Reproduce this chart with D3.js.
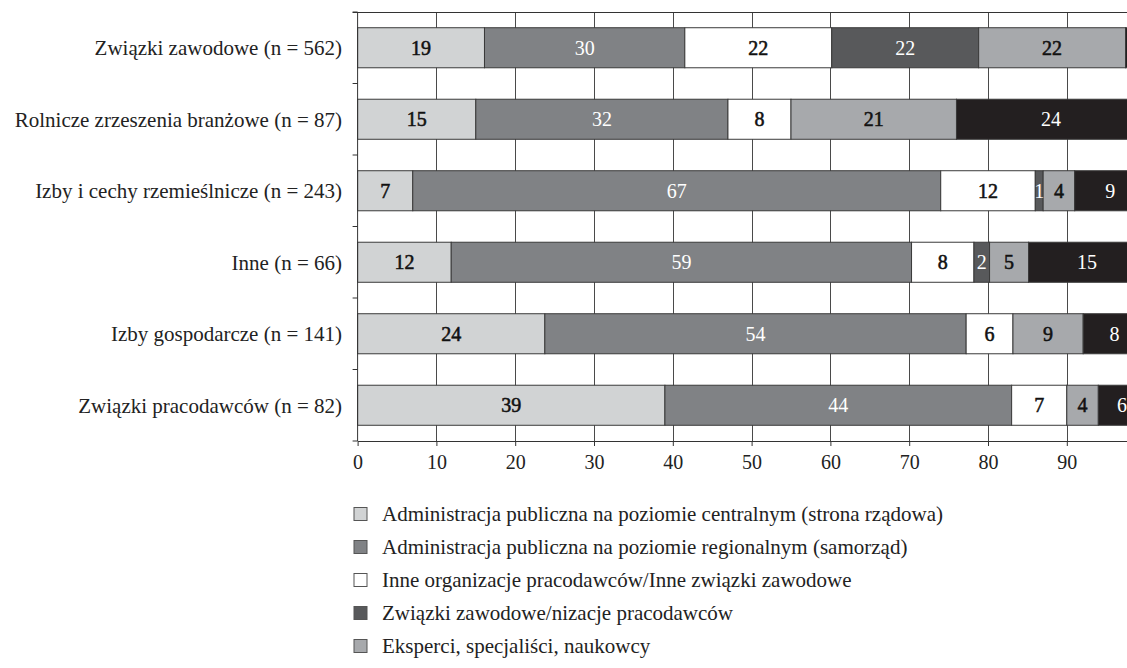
<!DOCTYPE html>
<html>
<head>
<meta charset="utf-8">
<script src="https://cdn.jsdelivr.net/npm/d3@7"></script>
<style>
  html, body { margin: 0; padding: 0; background: #fff; overflow: hidden; }
  svg { display: block; font-family: "Liberation Serif", "DejaVu Serif", serif; }
</style>
</head>
<body>
<svg id="chart" width="1127" height="668"></svg>
<script>
// ---- data (percent labels as printed; bars are normalised to 100% per row) ----
const categories = [
  "Związki zawodowe (n = 562)",
  "Rolnicze zrzeszenia branżowe (n = 87)",
  "Izby i cechy rzemieślnicze (n = 243)",
  "Inne (n = 66)",
  "Izby gospodarcze (n = 141)",
  "Związki pracodawców (n = 82)"
];
const seriesNames = [
  "Administracja publiczna na poziomie centralnym (strona rządowa)",
  "Administracja publiczna na poziomie regionalnym (samorząd)",
  "Inne organizacje pracodawców/Inne związki zawodowe",
  "Związki zawodowe/nizacje pracodawców",
  "Eksperci, specjaliści, naukowcy",
  "Inne"
];
const centralAdmin  = [19, 15,  7, 12, 24, 39];
const regionalAdmin = [30, 32, 67, 59, 54, 44];
const otherOrgs     = [22,  8, 12,  8,  6,  7];
const unionsEmpl    = [22,  0,  1,  2,  0,  0];
const experts       = [22, 21,  4,  5,  9,  4];
const otherActors   = [ 3, 24,  9, 15,  8,  6];
const xTicks = [0, 10, 20, 30, 40, 50, 60, 70, 80, 90];

const seriesValues = [centralAdmin, regionalAdmin, otherOrgs, unionsEmpl, experts, otherActors];
const fills     = ["#d1d3d4", "#808285", "#ffffff", "#58595b", "#a7a9ac", "#231f20"];
const textFills = ["#111", "#fff", "#111", "#fff", "#111", "#fff"];
const textStroke = [0.55, 0, 0.55, 0, 0.55, 0];

const W = 1127, H = 668;
const keys = seriesNames.map((_, i) => "s" + i);
const rows = categories.map((c, r) => {
  const o = { cat: c };
  keys.forEach((k, i) => { o[k] = seriesValues[i][r]; });
  return o;
});

const svg = d3.select("#chart");
const plotLeft = 357.6, plotRight = 1145.6, plotTop = 12, plotBottom = 441;

const x = d3.scaleLinear().domain([0, 100]).range([plotLeft, plotRight]);
const y = d3.scaleBand().domain(categories).range([plotTop, plotBottom])
  .paddingInner(0.44).paddingOuter(0.22);

const stacked = d3.stack().keys(keys).offset(d3.stackOffsetExpand)(rows);

// gridlines
svg.append("g").selectAll("line").data(xTicks.filter(t => t > 0)).join("line")
  .attr("x1", d => Math.round(x(d)) + 0.5).attr("x2", d => Math.round(x(d)) + 0.5)
  .attr("y1", plotTop).attr("y2", plotBottom)
  .attr("stroke", "#4a4a4a").attr("stroke-width", 1);

// top border
svg.append("line")
  .attr("x1", plotLeft - 5).attr("x2", plotRight)
  .attr("y1", plotTop + 0.5).attr("y2", plotTop + 0.5)
  .attr("stroke", "#333").attr("stroke-width", 1);

// bars
const layer = svg.append("g").selectAll("g").data(stacked).join("g")
  .attr("fill", (d, i) => fills[i]);
layer.selectAll("rect").data(d => d.map(v => ({ v, cat: v.data.cat }))).join("rect")
  .attr("x", d => x(d.v[0] * 100))
  .attr("width", d => x(d.v[1] * 100) - x(d.v[0] * 100))
  .attr("y", d => y(d.cat))
  .attr("height", y.bandwidth())
  .attr("stroke", "#3a3a3a").attr("stroke-width", 1);

// value labels (skip those whose centre lies beyond the picture's right edge)
const labels = svg.append("g");
stacked.forEach((s, i) => {
  s.forEach(v => {
    const val = v.data[s.key];
    const cx = x((v[0] + v[1]) / 2 * 100);
    if (!val || cx > W) return;
    labels.append("text")
      .attr("x", cx)
      .attr("y", y(v.data.cat) + y.bandwidth() / 2)
      .attr("dy", "0.35em")
      .attr("text-anchor", "middle")
      .attr("font-size", 20)
      .attr("fill", textFills[i])
      .attr("stroke", textStroke[i] ? textFills[i] : "none")
      .attr("stroke-width", textStroke[i])
      .text(val);
  });
});

// y axis line + ticks at band boundaries
svg.append("line")
  .attr("x1", plotLeft).attr("x2", plotLeft)
  .attr("y1", plotTop).attr("y2", plotBottom)
  .attr("stroke", "#333");
const boundaries = d3.range(categories.length + 1).map(i => plotTop + i * y.step());
svg.append("g").selectAll("line").data(boundaries).join("line")
  .attr("x1", plotLeft - 5).attr("x2", plotLeft)
  .attr("y1", d => d).attr("y2", d => d)
  .attr("stroke", "#333");

// category labels
svg.append("g").selectAll("text").data(categories).join("text")
  .attr("x", 342)
  .attr("y", d => y(d) + y.bandwidth() / 2)
  .attr("dy", "0.35em")
  .attr("text-anchor", "end")
  .attr("font-size", 21)
  .attr("fill", "#222")
  .text(d => d);

// x axis
const xAxis = svg.append("g").attr("transform", `translate(0,${plotBottom})`)
  .call(d3.axisBottom(x).tickValues(xTicks).tickSize(5).tickSizeOuter(0).tickPadding(9));
xAxis.select(".domain").attr("stroke", "#333");
xAxis.selectAll(".tick line").attr("stroke", "#333");
xAxis.selectAll(".tick text")
  .attr("font-family", "Liberation Serif, serif")
  .attr("font-size", 20).attr("fill", "#222");

// legend (entries that fit inside the picture)
const legendStep = 33, legendTop = 514;
const legendItems = seriesNames.map((n, i) => ({ n, i }))
  .filter(d => legendTop + d.i * legendStep + 10 < H);
const legend = svg.append("g").selectAll("g").data(legendItems).join("g")
  .attr("transform", d => `translate(354,${legendTop + d.i * legendStep})`);
legend.append("rect")
  .attr("x", 0).attr("y", -6.5).attr("width", 13).attr("height", 13)
  .attr("fill", d => fills[d.i])
  .attr("stroke", "#555").attr("stroke-width", 1);
legend.append("text")
  .attr("x", 28).attr("y", 0).attr("dy", "0.35em")
  .attr("font-size", 21).attr("fill", "#222")
  .text(d => d.n);
</script>
</body>
</html>
